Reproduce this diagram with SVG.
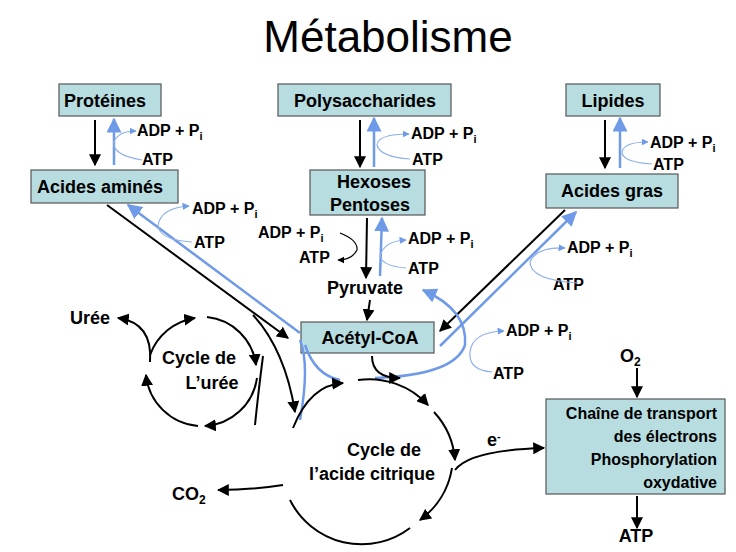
<svg xmlns="http://www.w3.org/2000/svg" width="736" height="552" viewBox="0 0 736 552">
<defs>
<marker id="ab" viewBox="0 0 10 10" refX="9" refY="5" markerWidth="6" markerHeight="6" orient="auto"><path d="M0,0L10,5L0,10z" fill="#000"/></marker>
<marker id="au" viewBox="0 0 10 10" refX="9" refY="5" markerWidth="6" markerHeight="6" orient="auto"><path d="M0,0L10,5L0,10z" fill="#6f9ae8"/></marker>
</defs>
<style>
text{font-family:"Liberation Sans",Arial,sans-serif;font-weight:bold;font-size:16px;fill:#000}
.t{font-size:18px}
.box rect{fill:#b7dde0;stroke:#555;stroke-width:1.2}
.k{stroke:#000;stroke-width:2;fill:none;marker-end:url(#ab)}
.kn{stroke:#000;stroke-width:2;fill:none}
.b{stroke:#6f9ae8;stroke-width:2.5;fill:none;marker-end:url(#au)}
.bn{stroke:#6f9ae8;stroke-width:2.5;fill:none}
.s{stroke:#8fb0ea;stroke-width:1.2;fill:none;marker-end:url(#au)}
.sk{stroke:#000;stroke-width:1.2;fill:none;marker-end:url(#ab)}
</style>
<rect width="736" height="552" fill="#fff"/>
<text x="388" y="52" text-anchor="middle" style="font-size:44px;font-weight:normal">Métabolisme</text>
<g id="proteines" class="box"><rect x="59" y="84" width="102" height="32"/><text class="t" x="105" y="107" text-anchor="middle">Protéines</text></g>
<g id="polysaccharides" class="box"><rect x="278" y="84" width="173" height="32"/><text class="t" x="365" y="107" text-anchor="middle">Polysaccharides</text></g>
<g id="lipides" class="box"><rect x="566" y="84" width="94" height="32"/><text class="t" x="613" y="107" text-anchor="middle">Lipides</text></g>
<g id="acides-amines" class="box"><rect x="31" y="170" width="147" height="33"/><text class="t" x="100" y="193" text-anchor="middle">Acides aminés</text></g>
<g id="hexoses" class="box"><rect x="310" y="170" width="115" height="45"/><text class="t" x="374" y="188" text-anchor="middle">Hexoses</text><text class="t" x="370" y="211" text-anchor="middle">Pentoses</text></g>
<g id="acides-gras" class="box"><rect x="546" y="174" width="132" height="34"/><text class="t" x="612" y="197" text-anchor="middle">Acides gras</text></g>
<g id="acetyl" class="box"><rect x="301" y="322" width="133" height="31"/><text class="t" x="370" y="344" text-anchor="middle">Acétyl-CoA</text></g>
<g id="chaine" class="box"><rect x="546" y="399" width="179" height="95"/>
<text x="717" y="419" text-anchor="end">Chaîne de transport</text><text x="717" y="442" text-anchor="end">des électrons</text><text x="717" y="465" text-anchor="end">Phosphorylation</text><text x="717" y="488" text-anchor="end">oxydative</text></g>
<g id="pyruvate"><text class="t" x="365" y="294" text-anchor="middle">Pyruvate</text></g>
<g id="uree"><text class="t" x="70" y="324">Urée</text></g>
<g id="cycle-uree"><text class="t" x="199" y="364" text-anchor="middle">Cycle de</text><text class="t" x="212" y="389" text-anchor="middle">L’urée</text></g>
<g id="cycle-citrique"><text class="t" x="384" y="456" text-anchor="middle">Cycle de</text><text class="t" x="372" y="480" text-anchor="middle">l’acide citrique</text></g>
<g id="co2"><text class="t" x="172" y="500">CO<tspan font-size="12" dy="4">2</tspan></text></g>
<g id="o2"><text class="t" x="620" y="362">O<tspan font-size="12" dy="4">2</tspan></text></g>
<g id="atp-out"><text class="t" x="636" y="542" text-anchor="middle">ATP</text></g>
<g id="eminus"><text class="t" x="487" y="446">e<tspan font-size="11" dy="-6">-</tspan></text></g>
<g id="energy-labels">
<text x="137" y="136">ADP + P<tspan font-size="11" dy="4">i</tspan></text><text x="142" y="165">ATP</text>
<text x="411" y="139">ADP + P<tspan font-size="11" dy="4">i</tspan></text><text x="412" y="165">ATP</text>
<text x="650" y="148">ADP + P<tspan font-size="11" dy="4">i</tspan></text><text x="653" y="170">ATP</text>
<text x="192" y="214">ADP + P<tspan font-size="11" dy="4">i</tspan></text><text x="194" y="248">ATP</text>
<text x="258" y="238">ADP + P<tspan font-size="11" dy="4">i</tspan></text><text x="299" y="263">ATP</text>
<text x="408" y="244">ADP + P<tspan font-size="11" dy="4">i</tspan></text><text x="408" y="274">ATP</text>
<text x="567" y="253">ADP + P<tspan font-size="11" dy="4">i</tspan></text><text x="553" y="290">ATP</text>
<text x="506" y="336">ADP + P<tspan font-size="11" dy="4">i</tspan></text><text x="493" y="379">ATP</text>
</g>
<g id="connectors">
<path class="k" d="M95,120V165"/><path class="b" d="M114,165V119"/><path class="s" d="M142,160Q112,155 114,142Q118,131 136,131"/>
<path class="k" d="M360,120V167"/><path class="b" d="M374,167V118"/><path class="s" d="M410,159Q380,157 377,145Q378,134 409,134"/>
<path class="k" d="M605,120V168"/><path class="b" d="M620,168V118"/><path class="s" d="M652,164Q622,162 622,152Q624,142 648,142"/>
<path class="k" d="M107,205L288,338"/><path class="b" d="M300,333L128,205"/><path class="s" d="M192,242Q160,240 158,226Q160,208 189,206"/>
<path class="k" d="M367,218L366,278"/><path class="b" d="M380,276L382,218"/><path class="sk" d="M340,233Q358,240 357,250Q352,260 338,260"/><path class="s" d="M406,268Q382,266 380,256Q384,241 406,240"/>
<path class="k" d="M370,300L367,320"/>
<path class="k" d="M565,210L440,331"/><path class="b" d="M440,346L576,212"/><path class="s" d="M578,283Q530,280 530,262Q536,247 565,248"/>
<path class="b" d="M375,378Q455,375 465,345Q468,310 423,290"/><path class="s" d="M492,372Q468,370 470,352Q472,332 504,331"/>
<path class="bn" d="M300,340Q310,365 300,420M305,345Q315,375 340,380"/>
<path class="k" d="M372,356Q372,378 400,378"/>
<path class="k" d="M253,315Q285,350 295,412"/>
<path class="k" d="M150,355A57,57 0 0 1 195,318"/>
<path class="k" d="M207,317A55,55 0 0 1 256,365"/>
<path class="k" d="M257,378A56,56 0 0 1 205,426"/>
<path class="k" d="M198,426A57,57 0 0 1 146,375"/>
<path class="k" d="M150,362Q153,323 118,318"/>
<path class="kn" d="M263,356Q258,395 255,425"/>
<path class="k" d="M293,428Q310,385 343,383"/>
<path class="k" d="M358,380A80,80 0 0 1 428,405"/>
<path class="k" d="M434,412A80,80 0 0 1 455,460"/>
<path class="k" d="M452,468A80,80 0 0 1 420,520"/>
<path class="kn" d="M410,528A80,80 0 0 1 290,500"/>
<path class="k" d="M283,485Q250,490 218,490"/>
<path class="k" d="M455,470Q470,450 544,448"/>
<path class="k" d="M637,368V397"/><path class="k" d="M637,496V528"/>
</g>
</svg>
